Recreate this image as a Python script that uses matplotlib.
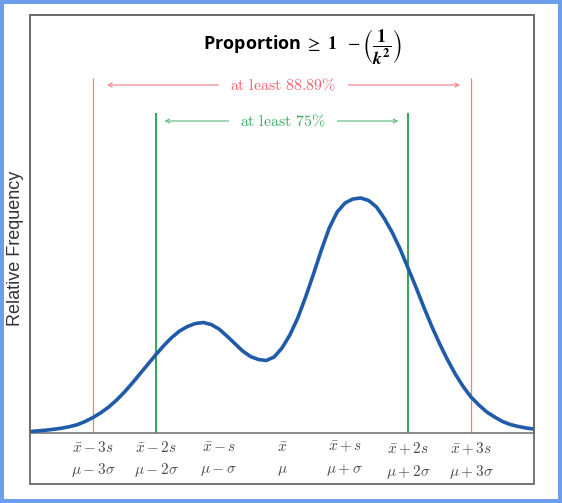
import matplotlib.pyplot as plt
from matplotlib.patches import Rectangle

plt.rcParams['mathtext.fontset'] = 'cm'

# Curve (x in units of s from the mean, y = relative frequency)
x_vals = [-4, -3.875, -3.75, -3.625, -3.5, -3.375, -3.25, -3.125, -3, -2.875,
          -2.75, -2.625, -2.5, -2.375, -2.25, -2.125, -2, -1.875, -1.75, -1.625,
          -1.5, -1.375, -1.25, -1.125, -1, -0.875, -0.75, -0.625, -0.5, -0.375,
          -0.25, -0.125, 0, 0.125, 0.25, 0.375, 0.5, 0.625, 0.75, 0.875,
          1, 1.125, 1.25, 1.375, 1.5, 1.625, 1.75, 1.875, 2, 2.125,
          2.25, 2.375, 2.5, 2.625, 2.75, 2.875, 3, 3.125, 3.25, 3.375,
          3.5, 3.625, 3.75, 3.875, 4]
freq = [1.5, 2.1, 2.8, 3.7, 4.8, 6.3, 8.3, 11.5, 15.5, 20.3,
        26, 33, 41, 50, 59.5, 69, 78.5, 87.5, 95.5, 102,
        106.5, 109.5, 110.5, 108.5, 104, 97, 89.5, 82, 76.5, 73.5,
        72.5, 76, 85, 98, 115, 136, 159, 183, 205, 221,
        230, 234, 235, 232.5, 226, 214.5, 200.5, 184, 165, 146,
        126, 107, 89.5, 73.5, 59, 46.5, 36, 28, 21, 16,
        11.5, 8.5, 6.5, 5, 4]
freq = [f / 1000 for f in freq]

tick_pos = [-3, -2, -1, 0, 1, 2, 3]
tick_labels = [r'$\bar{x}-3s$' + '\n' + r'$\mu-3\sigma$',
               r'$\bar{x}-2s$' + '\n' + r'$\mu-2\sigma$',
               r'$\bar{x}-s$' + '\n' + r'$\mu-\sigma$',
               r'$\bar{x}$' + '\n' + r'$\mu$',
               r'$\bar{x}+s$' + '\n' + r'$\mu+\sigma$',
               r'$\bar{x}+2s$' + '\n' + r'$\mu+2\sigma$',
               r'$\bar{x}+3s$' + '\n' + r'$\mu+3\sigma$']

W, H = 562, 503
fig = plt.figure(figsize=(W / 100, H / 100), dpi=100)
fig.patch.set_facecolor('white')
fig.patch.set_edgecolor('#6d9eeb')
fig.patch.set_linewidth(4.4)

# outer gray box
fig.patches.append(Rectangle((30 / W, 1 - 484 / H), 504 / W, 469 / H,
                             transform=fig.transFigure, fill=False,
                             edgecolor='#6a6a6a', linewidth=1.3))

ax = fig.add_axes([30 / W, 1 - 433 / H, 504 / W, 418 / H])
ax.set_xlim(-4, 4)
ax.set_ylim(0, 0.418)
for sp in ax.spines.values():
    sp.set_color('#777777')
    sp.set_linewidth(1.2)

ax.plot(x_vals, freq, color='#1f5ba8', linewidth=2.6, solid_capstyle='round',
        solid_joinstyle='round', zorder=3)

# k = 3 and k = 2 bounds
red = '#f27d85'
green = '#1fa04a'
ax.vlines([-3, 3], 0, 0.355, color=red, linewidth=0.9, zorder=2)
ax.vlines([-2, 2], 0, 0.320, color=green, linewidth=1.3, zorder=2)

ax.annotate('', xy=(-2.78, 0.348), xytext=(2.83, 0.348),
            arrowprops=dict(arrowstyle='<->', color='#f58a90', lw=0.9,
                            shrinkA=0, shrinkB=0, mutation_scale=7))
ax.text(0.02, 0.348, r'$\mathrm{at\ least\ 88.89\%}$', color='#f0606e',
        fontsize=11.5, ha='center', va='center',
        bbox=dict(facecolor='white', edgecolor='none', pad=8))

ax.annotate('', xy=(-1.87, 0.312), xytext=(1.85, 0.312),
            arrowprops=dict(arrowstyle='<->', color='#6cc08a', lw=0.9,
                            shrinkA=0, shrinkB=0, mutation_scale=7))
ax.text(0.02, 0.312, r'$\mathrm{at\ least\ 75\%}$', color='#3aab62',
        fontsize=11.5, ha='center', va='center',
        bbox=dict(facecolor='white', edgecolor='none', pad=8))

ax.set_xticks(tick_pos)
ax.set_xticklabels(tick_labels, fontsize=11, color='#4a4a4a', linespacing=1.5)
ax.tick_params(axis='x', length=0, pad=5)
ax.set_xticks([0], minor=True)
ax.tick_params(axis='x', which='minor', direction='in', length=3, color='#444444')
ax.set_yticks([])

fig.text(302 / W, 1 - 46 / H,
         r'Proportion $\geq\ \mathbf{1}\ \ -\left(\dfrac{\mathbf{1}}{\mathbfit{k}^{\mathbf{2}}}\right)$',
         fontsize=13, fontweight='bold', family='Open Sans', math_fontfamily='stix',
         ha='center', va='center', color='black')

fig.text(16 / W, 1 - 248 / H, 'Relative Frequency', rotation=90,
         fontsize=13, family='Liberation Sans', color='#333333',
         ha='center', va='center')

fig.savefig('out.png', dpi=100, facecolor='white')
